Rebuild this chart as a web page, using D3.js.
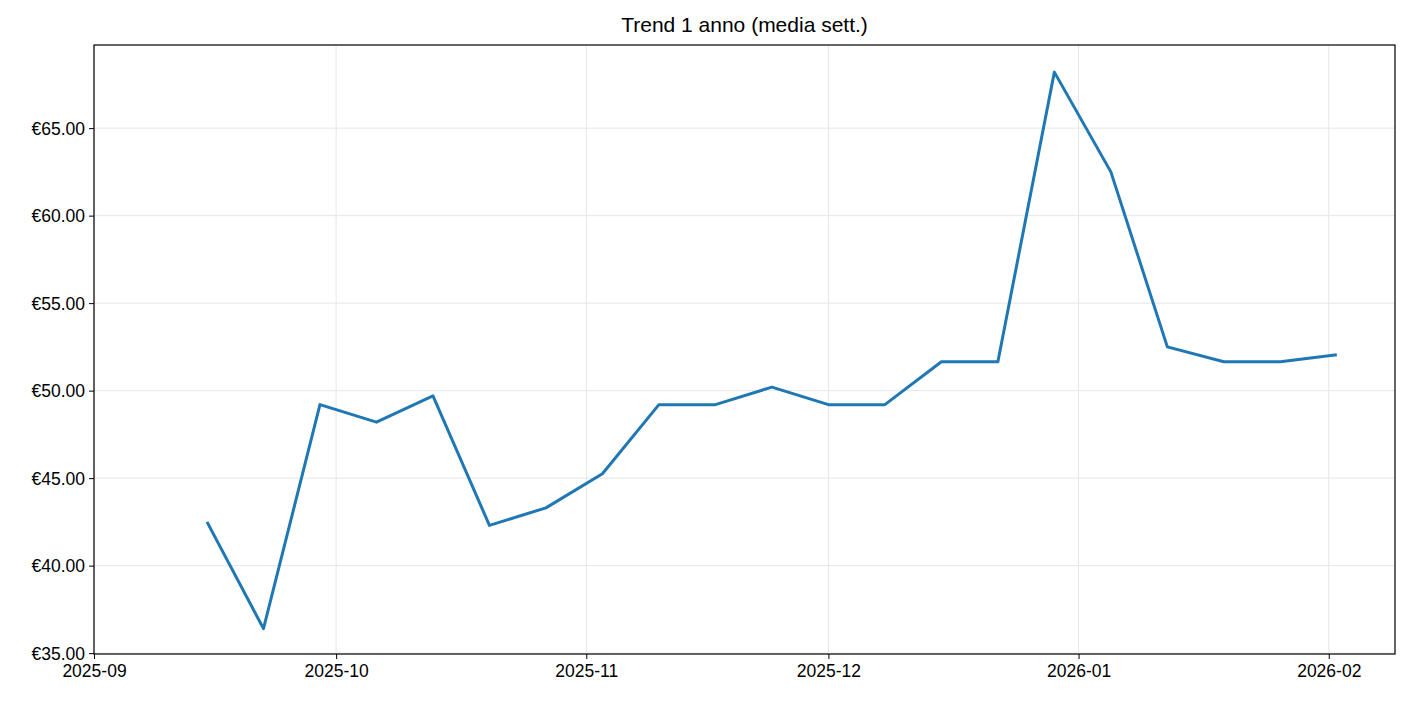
<!DOCTYPE html>
<html><head><meta charset="utf-8">
<script src="https://cdn.jsdelivr.net/npm/d3@7"></script>
<style>body{margin:0;background:#fff}text{font-family:"Liberation Sans",Arial,sans-serif}</style>
</head><body><svg id="c" width="1410" height="704"></svg>
<script>
const dates = ["2025-09-15","2025-09-22","2025-09-29","2025-10-06","2025-10-13","2025-10-20","2025-10-27","2025-11-03","2025-11-10","2025-11-17","2025-11-24","2025-12-01","2025-12-08","2025-12-15","2025-12-22","2025-12-29","2026-01-05","2026-01-12","2026-01-19","2026-01-26","2026-02-02"];
const values = [42.5,36.4,49.2,48.2,49.7,42.3,43.3,45.25,49.2,49.2,50.2,49.2,49.2,51.65,51.65,68.2,62.5,52.5,51.65,51.65,52.05];
const xTicks = ["2025-09-01","2025-10-01","2025-11-01","2025-12-01","2026-01-01","2026-02-01"];
const yTicks = [35,40,45,50,55,60,65];
const title = "Trend 1 anno (media sett.)";

const p = d3.timeParse("%Y-%m-%d");
const svg = d3.select("#c");
const L=94,R=1395,T=45,B=654;
const x = d3.scaleTime().domain([p("2025-09-01"), new Date(2026,1,9,5)]).range([L,R]);
const y = d3.scaleLinear().domain([34.95,69.75]).range([B,T]);

const g = svg.append("g");
g.selectAll(".vx").data(xTicks).join("line").attr("x1",d=>x(p(d))).attr("x2",d=>x(p(d))).attr("y1",T).attr("y2",B).attr("stroke","#e6e6e6").attr("stroke-width",1);
g.selectAll(".hy").data(yTicks).join("line").attr("y1",d=>y(d)).attr("y2",d=>y(d)).attr("x1",L).attr("x2",R).attr("stroke","#e6e6e6").attr("stroke-width",1);

const xa = svg.append("g").attr("transform",`translate(0,${B})`).call(d3.axisBottom(x).tickValues(xTicks.map(p)).tickFormat(d3.timeFormat("%Y-%m")).tickSize(5).tickPadding(6));
const ya = svg.append("g").attr("transform",`translate(${L},0)`).call(d3.axisLeft(y).tickValues(yTicks).tickFormat(d=>"€"+d.toFixed(2)).tickSize(5).tickPadding(4));
[xa,ya].forEach(a=>{a.select(".domain").remove();a.selectAll("text").attr("font-size",17.5).attr("fill","#000");a.selectAll("line").attr("stroke","#000");});
ya.selectAll("text").attr("dy","0.35em");

svg.append("path").datum(dates.map((d,i)=>[p(d),values[i]]))
 .attr("d",d3.line().x(d=>x(d[0])).y(d=>y(d[1])))
 .attr("fill","none").attr("stroke","#1f77b4").attr("stroke-width",3).attr("stroke-linejoin","round");

svg.append("rect").attr("x",L).attr("y",T).attr("width",R-L).attr("height",B-T).attr("fill","none").attr("stroke","#000").attr("stroke-width",1.2);
svg.append("text").attr("x",(L+R)/2).attr("y",32).attr("text-anchor","middle").attr("font-size",21).text(title);
</script></body></html>
